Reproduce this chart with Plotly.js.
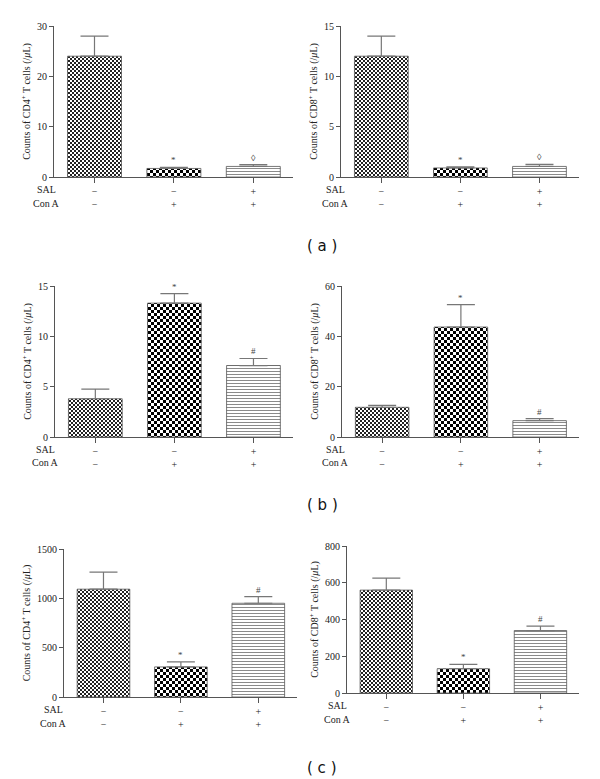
<!DOCTYPE html>
<html><head><meta charset="utf-8">
<script src="https://cdn.plot.ly/plotly-3.0.1.min.js"></script>
<style>html,body{margin:0;padding:0;background:#fff}#chart{width:600px;height:779px}</style>
</head><body><div id="chart"></div>
<script>
// ---- data ----
const groups = [0, 1, 2];
const salRow = ['\u2212', '\u2212', '+'];
const conARow = ['\u2212', '+', '+'];

const aCD4 = [24.0, 1.7, 2.1];
const aCD4Err = [4.0, 0.2, 0.35];
const aCD8 = [12.0, 0.9, 1.05];
const aCD8Err = [2.0, 0.1, 0.2];

const bCD4 = [3.8, 13.3, 7.1];
const bCD4Err = [0.95, 0.95, 0.7];
const bCD8 = [11.8, 43.7, 6.5];
const bCD8Err = [0.8, 8.9, 0.8];

const cCD4 = [1093, 305, 950];
const cCD4Err = [173, 51, 68];
const cCD8 = [560, 132, 340];
const cCD8Err = [65, 24, 24];

const marksA = ['', '*', '\u25CA'];
const marksBC = ['', '*', '#'];

const ticksA4 = [0, 10, 20, 30];
const ticksA8 = [0, 5, 10, 15];
const ticksB4 = [0, 5, 10, 15];
const ticksB8 = [0, 20, 40, 60];
const ticksC4 = [0, 500, 1000, 1500];
const ticksC8 = [0, 200, 400, 600, 800];

const titleCD4 = 'Counts of CD4<sup>+</sup> T cells (/<i>\u03BC</i>L)';
const titleCD8 = 'Counts of CD8<sup>+</sup> T cells (/<i>\u03BC</i>L)';
const panelLetters = ['( a )', '( b )', '( c )'];

// ---- layout geometry (pixels) ----
const W = 600, H = 779;
const panels = [
  {v: aCD4, e: aCD4Err, m: marksA, t: ticksA4, title: titleCD4, x: [54, 293], y: [26, 177], lab: 46},
  {v: aCD8, e: aCD8Err, m: marksA, t: ticksA8, title: titleCD8, x: [341, 579], y: [26, 177], lab: 335},
  {v: bCD4, e: bCD4Err, m: marksBC, t: ticksB4, title: titleCD4, x: [55, 293], y: [286, 437], lab: 45},
  {v: bCD8, e: bCD8Err, m: marksBC, t: ticksB8, title: titleCD8, x: [342, 579], y: [286, 437], lab: 335},
  {v: cCD4, e: cCD4Err, m: marksBC, t: ticksC4, title: titleCD4, x: [64, 297], y: [549, 697], lab: 53},
  {v: cCD8, e: cCD8Err, m: marksBC, t: ticksC8, title: titleCD8, x: [347, 579], y: [546, 693], lab: 337}
];
const letterY = [246, 505, 768];

const font = "'Liberation Serif', 'Times New Roman', serif";
const axisCol = '#555';
const textCol = '#222';

const traces = [];
const layout = {
  width: W, height: H, margin: {l: 0, r: 0, t: 0, b: 0},
  paper_bgcolor: '#fff', plot_bgcolor: '#fff',
  showlegend: false, annotations: [],
  font: {family: font, size: 10, color: textCol}
};

panels.forEach((p, k) => {
  const n = k + 1;
  const xa = 'xaxis' + (n === 1 ? '' : n), ya = 'yaxis' + (n === 1 ? '' : n);
  const xr = 'x' + (n === 1 ? '' : n), yr = 'y' + (n === 1 ? '' : n);
  traces.push({
    type: 'bar', x: groups, y: p.v, xaxis: xr, yaxis: yr, width: 0.68,
    marker: {
      color: '#fff',
      line: {color: '#555', width: 0.8},
      pattern: {
        shape: ['.', '.', '-'],
        size: [4, 6, 3],
        solidity: [0.5, 0.5, 0.35],
        fgcolor: ['#222', '#000', '#8a8a8a'],
        bgcolor: ['#fff', '#fff', '#fff'],
        fillmode: 'replace'
      }
    },
    error_y: {type: 'data', symmetric: false, array: p.e, arrayminus: p.e.map(() => 0),
              color: '#777', thickness: 1.2, width: 14},
    hoverinfo: 'skip'
  });
  const ymax = p.t[p.t.length - 1];
  layout[xa] = {
    domain: [p.x[0] / W, p.x[1] / W], anchor: yr, range: [-0.51, 2.5],
    tickvals: groups, ticktext: groups.map(i => salRow[i] + '<br>' + conARow[i]),
    ticks: 'outside', ticklen: 5, tickcolor: axisCol, tickwidth: 1,
    showline: true, linecolor: axisCol, linewidth: 1, showgrid: false, zeroline: false,
    tickfont: {family: font, size: 10, color: textCol}, fixedrange: true
  };
  layout[ya] = {
    domain: [1 - p.y[1] / H, 1 - p.y[0] / H], anchor: xr, range: [0, ymax],
    tickvals: p.t, ticks: 'outside', ticklen: 4, tickcolor: axisCol, tickwidth: 1,
    showline: true, linecolor: axisCol, linewidth: 1, showgrid: false, zeroline: false,
    tickfont: {family: font, size: 10, color: textCol}, fixedrange: true,
    title: {text: p.title, font: {family: font, size: 10, color: textCol}, standoff: 4}
  };
  // significance marks above error bars
  groups.forEach(i => {
    if (!p.m[i]) return;
    layout.annotations.push({
      xref: xr, yref: yr, x: i, y: p.v[i] + p.e[i], text: p.m[i], showarrow: false,
      yanchor: 'bottom', yshift: 0, font: {family: font, size: 9, color: '#444'}
    });
  });
  // row labels
  [['SAL', 12], ['Con A', 26]].forEach(([txt, dy]) => {
    layout.annotations.push({
      xref: 'paper', yref: 'paper', x: p.lab / W, y: 1 - (p.y[1] + dy) / H,
      text: txt, showarrow: false, xanchor: 'center', yanchor: 'middle',
      font: {family: font, size: 10, color: textCol}
    });
  });
});

panelLetters.forEach((t, i) => {
  layout.annotations.push({
    xref: 'paper', yref: 'paper', x: 322 / W, y: 1 - letterY[i] / H, text: t, showarrow: false,
    xanchor: 'center', yanchor: 'middle',
    font: {family: "'DejaVu Sans', Verdana, sans-serif", size: 15, color: '#111'}
  });
});

Plotly.newPlot('chart', traces, layout, {displayModeBar: false, staticPlot: true}).then(() => {
  // turn the dot patterns into true checkerboards
  document.querySelectorAll('#chart pattern').forEach(pat => {
    const c = pat.querySelector('circle');
    if (!c) return;
    const w = parseFloat(pat.getAttribute('width'));
    const h = parseFloat(pat.getAttribute('height')) || w;
    const fill = c.style.fill || c.getAttribute('fill') || '#000';
    const ns = 'http://www.w3.org/2000/svg';
    [[0, 0], [w / 2, h / 2]].forEach(([x, y]) => {
      const r = document.createElementNS(ns, 'rect');
      r.setAttribute('x', x); r.setAttribute('y', y);
      r.setAttribute('width', w / 2); r.setAttribute('height', h / 2);
      r.setAttribute('fill', fill);
      r.setAttribute('shape-rendering', 'crispEdges');
      pat.appendChild(r);
    });
    c.remove();
  });
});
</script>
</body></html>
